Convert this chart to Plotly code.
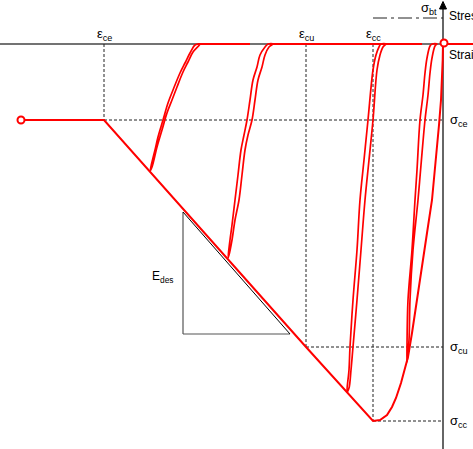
import plotly.graph_objects as go

# Strain in per mille (compression negative), stress in MPa (compression negative)
eps_ce, eps_cu, eps_cc = -3.39, -1.37, -0.70
sig_ce, sig_cu, sig_cc, sig_bt = -7.6, -30.3, -37.7, 2.6

# Monotonic envelope: tension branch, ascending compression branch, descending branch, residual plateau
env_strain = [0.30, 0.0, -0.003, -0.01, -0.02, -0.04, -0.07, -0.11, -0.16, -0.21, -0.26,
              -0.31, -0.35, -0.38, -0.42, -0.47, -0.51, -0.56, -0.63, eps_cc, eps_cu, eps_ce, -4.22]
env_stress = [0.0, 0.0, -1.6, -3.6, -5.6, -8.1, -11.6, -15.6, -18.9, -22.3, -25.6,
              -28.9, -31.3, -32.4, -33.9, -35.4, -36.3, -37.1, -37.6, sig_cc, sig_cu, sig_ce, sig_ce]

# Unloading / reloading cycles (unloading branch, then reloading branch)
loop1_unl_strain = [-2.93, -2.88, -2.85, -2.80, -2.75, -2.70, -2.63, -2.58, -2.53, -2.48, -2.45]
loop1_unl_stress = [-12.7, -10.6, -9.3, -7.6, -5.9, -4.6, -2.9, -1.9, -0.9, -0.1, 0.0]
loop1_rel_strain = [-2.43, -2.50, -2.55, -2.60, -2.66, -2.71, -2.76, -2.81, -2.86, -2.91, -2.93]
loop1_rel_stress = [0.0, -0.8, -1.8, -2.8, -4.3, -5.6, -6.9, -8.6, -10.3, -12.3, -12.7]

loop2_unl_strain = [-2.15, -2.13, -2.11, -2.08, -2.05, -2.02, -1.99, -1.96, -1.93, -1.90, -1.86, -1.83, -1.78, -1.75]
loop2_unl_stress = [-21.4, -19.6, -18.1, -15.6, -13.1, -10.6, -9.1, -7.6, -5.6, -3.6, -2.3, -1.1, -0.3, 0.0]
loop2_rel_strain = [-1.70, -1.74, -1.78, -1.81, -1.85, -1.88, -1.91, -1.95, -1.98, -2.01, -2.04, -2.08, -2.11, -2.14, -2.15]
loop2_rel_stress = [0.0, -0.3, -1.1, -2.3, -3.6, -5.6, -7.6, -9.1, -10.6, -13.1, -15.6, -17.6, -19.6, -21.1, -21.4]

loop3_unl_strain = [-0.96, -0.94, -0.93, -0.90, -0.86, -0.83, -0.79, -0.75, -0.70, -0.67, -0.64, -0.62]
loop3_unl_stress = [-34.8, -32.6, -30.3, -25.6, -20.6, -15.6, -11.6, -7.6, -2.6, -1.1, -0.3, 0.0]
loop3_rel_strain = [-0.57, -0.60, -0.63, -0.66, -0.70, -0.74, -0.78, -0.82, -0.86, -0.90, -0.92, -0.94, -0.96]
loop3_rel_stress = [0.0, -0.3, -1.1, -2.6, -7.6, -11.6, -15.6, -20.6, -25.6, -30.3, -32.6, -34.4, -34.8]

loop4_unl_strain = [-0.36, -0.36, -0.35, -0.31, -0.28, -0.26, -0.23, -0.20, -0.18, -0.16, -0.13, -0.11]
loop4_unl_stress = [-31.8, -30.3, -25.6, -20.6, -15.6, -12.6, -7.6, -5.1, -2.9, -1.4, -0.2, 0.0]
loop4_rel_strain = [-0.06, -0.08, -0.11, -0.13, -0.15, -0.18, -0.22, -0.25, -0.30, -0.33, -0.34, -0.36]
loop4_rel_stress = [0.0, -0.2, -1.4, -2.9, -5.1, -7.6, -12.1, -15.6, -20.6, -25.6, -29.6, -31.8]

# Zero-stress segments travelled between cycles
zero_segments = [(-2.45, -1.93), (-1.73, -0.21)]

RED = "#ff0000"
INK = "#222222"
FONT = "Liberation Sans, Arial, sans-serif"

fig = go.Figure()

fig.add_trace(go.Scatter(x=env_strain, y=env_stress, mode="lines",
                         line=dict(color=RED, width=2), hoverinfo="skip"))

loops = [
    (loop1_unl_strain + loop1_rel_strain, loop1_unl_stress + loop1_rel_stress),
    (loop2_unl_strain + loop2_rel_strain, loop2_unl_stress + loop2_rel_stress),
    (loop3_unl_strain + loop3_rel_strain, loop3_unl_stress + loop3_rel_stress),
    (loop4_unl_strain + loop4_rel_strain, loop4_unl_stress + loop4_rel_stress),
]
for xs, ys in loops:
    fig.add_trace(go.Scatter(x=xs, y=ys, mode="lines", line=dict(color=RED, width=1.7),
                             line_shape="spline", hoverinfo="skip"))

for a, b in zero_segments:
    fig.add_trace(go.Scatter(x=[a, b], y=[0, 0], mode="lines",
                             line=dict(color=RED, width=2), hoverinfo="skip"))

# Start and origin markers
fig.add_trace(go.Scatter(x=[env_strain[-1], 0.01], y=[env_stress[-1], 0.1], mode="markers",
                         marker=dict(symbol="circle", size=7, color="white",
                                     line=dict(color=RED, width=2)),
                         hoverinfo="skip"))

shapes = []
# Axes
shapes.append(dict(type="line", xref="x", yref="y", x0=-4.43, x1=0.30, y0=0, y1=0,
                   line=dict(color="#444444", width=1.5), layer="below"))
shapes.append(dict(type="line", xref="x", yref="y", x0=0, x1=0, y0=-40.5, y1=3.6,
                   line=dict(color="#333333", width=1.5), layer="below"))
shapes.append(dict(type="path", xref="x", yref="y",
                   path="M -0.035,3.5 L 0.035,3.5 L 0,4.25 Z",
                   fillcolor="black", line=dict(color="black", width=1)))

dash = "3px,2px"
# Strain guide lines
for e, s in [(eps_ce, sig_ce), (eps_cu, sig_cu), (eps_cc, sig_cc)]:
    shapes.append(dict(type="line", xref="x", yref="y", x0=e, x1=e, y0=0, y1=s,
                       line=dict(color=INK, width=1, dash=dash), layer="below"))
    shapes.append(dict(type="line", xref="x", yref="y", x0=e, x1=0, y0=s, y1=s,
                       line=dict(color=INK, width=1, dash=dash), layer="below"))
# Tensile strength line
shapes.append(dict(type="line", xref="x", yref="y", x0=-0.70, x1=0, y0=sig_bt, y1=sig_bt,
                   line=dict(color=INK, width=1, dash="14px,4px,3px,4px"), layer="below"))

# Descending-modulus triangle
tri_x0, tri_x1 = -2.60, -1.53
tri_y0, tri_y1 = -16.8, -29.0
shapes.append(dict(type="line", xref="x", yref="y", x0=tri_x0, x1=tri_x0, y0=tri_y0, y1=tri_y1,
                   line=dict(color="#555555", width=1.2), layer="below"))
shapes.append(dict(type="line", xref="x", yref="y", x0=tri_x0, x1=tri_x1, y0=tri_y1, y1=tri_y1,
                   line=dict(color="#555555", width=1.2), layer="below"))
shapes.append(dict(type="line", xref="x", yref="y", x0=tri_x0, x1=tri_x1, y0=tri_y0, y1=tri_y1,
                   line=dict(color="black", width=1), layer="below"))

ann = []
def label(x, y, text, xanchor="center", yanchor="middle", size=13):
    ann.append(dict(x=x, y=y, xref="x", yref="y", text=text, showarrow=False,
                    xanchor=xanchor, yanchor=yanchor,
                    font=dict(family=FONT, size=size, color="black")))

label(eps_ce, 1.0, "ε<sub>ce</sub>")
label(eps_cu, 1.0, "ε<sub>cu</sub>")
label(eps_cc, 1.0, "ε<sub>cc</sub>")
label(0.045, sig_ce, "σ<sub>ce</sub>", xanchor="left")
label(0.045, sig_cu, "σ<sub>cu</sub>", xanchor="left")
label(0.045, sig_cc, "σ<sub>cc</sub>", xanchor="left")
label(-0.04, 3.6, "σ<sub>bt</sub>", xanchor="right")
label(0.04, 2.8, "Stress", xanchor="left", size=12)
label(0.04, -1.1, "Strain", xanchor="left", size=12)
label(-2.80, -23.3, "E<sub>des</sub>", size=12)

fig.update_layout(
    width=473, height=449, autosize=False,
    margin=dict(l=0, r=0, t=0, b=0),
    paper_bgcolor="white", plot_bgcolor="white",
    showlegend=False,
    xaxis=dict(range=[-4.43, 0.30], visible=False, fixedrange=True),
    yaxis=dict(range=[-40.5, 4.4], visible=False, fixedrange=True),
    shapes=shapes, annotations=ann,
)

fig.write_html("out.html")
